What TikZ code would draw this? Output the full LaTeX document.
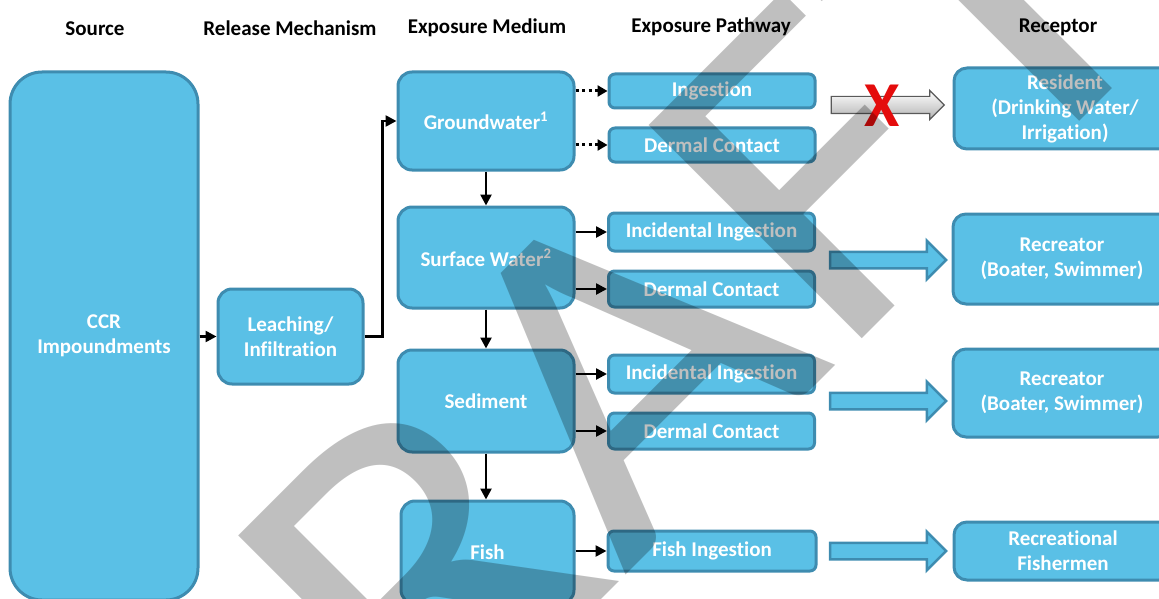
\documentclass[tikz,border=0pt]{standalone}
\usepackage{fontspec}
\setmainfont{Carlito}[Ligatures=NoCommon]
\usetikzlibrary{arrows.meta,shapes.arrows,calc}
\definecolor{boxfill}{RGB}{90,192,230}
\definecolor{boxline}{RGB}{62,140,176}
\definecolor{xred}{RGB}{228,12,12}

\begin{document}
\begin{tikzpicture}[x=1pt,y=-1pt,
  hdr/.style={font=\bfseries\fontsize{21}{25}\selectfont, text=black, inner sep=0pt},
  box/.style={font=\bfseries\fontsize{21}{25}\selectfont, align=center, text=white,
              draw=boxline, fill=boxfill, line width=3pt, inner sep=0pt, rounded corners=#1},
  box/.default=13pt,
  pathbox/.style={box=6pt, minimum width=206pt, minimum height=36pt},
  medium/.style={box=14pt, minimum width=176pt},
  arr/.style={line width=2.5pt, -{Triangle[length=11pt,width=11pt]}},
  dotarr/.style={line width=3pt, dash pattern=on 3pt off 3.5pt, -{Triangle[length=10pt,width=11pt]}},
  blockarr/.style={single arrow, draw=boxline, fill=boxfill, line width=2.5pt,
                   inner xsep=0pt, inner ysep=7pt,
                   minimum height=116pt, minimum width=36pt,
                   single arrow head extend=11pt, single arrow head indent=0pt}
]
\useasboundingbox (0,0) rectangle (1159,599);
\clip (0,0) rectangle (1159,599);

% column headings
\node[hdr] (hsrc) at (95,29)   {Source};
\node[hdr] (hrel) at (290,28)  {Release Mechanism};
\node[hdr] (hmed) at (487,28)  {Exposure Medium};
\node[hdr] (hpth) at (711,27)  {Exposure Pathway};
\node[hdr] (hrec) at (1058,27) {Receptor};

% source and release
\node[box=32pt, minimum width=188pt, minimum height=528pt] (ccr) at (104,336) {CCR\\Impoundments};
\node[box=14pt, minimum width=145pt, minimum height=95pt] (leach) at (290.5,336.5) {Leaching/\\Infiltration};

% exposure media
\node[medium, minimum height=98pt]  (gw)   at (486,121)   {Groundwater\textsuperscript{1}};
\node[medium, minimum height=101pt] (sw)   at (486,257.5) {Surface Water\textsuperscript{2}};
\node[medium, minimum height=102pt] (sed)  at (486,401)   {Sediment};
\node[medium, minimum width=173pt, minimum height=103pt] (fish) at (487.5,552.5) {Fish};

% exposure pathways
\node[pathbox, minimum height=34pt] (p1) at (712,91)  {Ingestion};
\node[pathbox, minimum height=34pt] (p2) at (712,145) {Dermal Contact};
\node[pathbox, minimum height=38pt] (p3) at (711.5,232) {Incidental Ingestion};
\node[pathbox] (p4) at (711.5,289) {Dermal Contact};
\node[pathbox, minimum height=38pt] (p5) at (711.5,374) {Incidental Ingestion};
\node[pathbox] (p6) at (711.5,431) {Dermal Contact};
\node[pathbox, minimum width=208pt, minimum height=40pt] (p7) at (712,551) {Fish Ingestion};

% receptors
\node[box, minimum width=222pt, minimum height=81pt] (r1) at (1065,108.5) {Resident\\(Drinking Water/\\Irrigation)};
\node[box, minimum width=218pt, minimum height=90pt] (r2) at (1062,259) {Recreator\\(Boater, Swimmer)};
\node[box, minimum width=218pt, minimum height=88pt] (r3) at (1062,393) {Recreator\\(Boater, Swimmer)};
\node[box, minimum width=218pt, minimum height=58pt] (r4) at (1063,551) {Recreational\\Fishermen};

% connectors
\draw[arr] (ccr.east |- leach.west) -- (leach.west);
\draw[arr] (leach.east) -- ++(18,0) |- (gw.west);
\draw[arr] (gw.south) -- (sw.north);
\draw[arr] (sw.south) -- (sed.north);
\draw[arr] (sed.south) -- (sed.south |- fish.north);
\draw[dotarr] (gw.east |- p1.west) -- (p1.west);
\draw[dotarr] (gw.east |- p2.west) -- (p2.west);
\draw[arr] (sw.east |- p3.west) -- (p3.west);
\draw[arr] (sw.east |- p4.west) -- (p4.west);
\draw[arr] (sed.east |- p5.west) -- (p5.west);
\draw[arr] (sed.east |- p6.west) -- (p6.west);
\draw[arr] (fish.east |- p7.west) -- (p7.west);

% block arrows towards receptors
\node[single arrow, draw=black!65, line width=1.2pt, inner xsep=0pt, inner ysep=8pt,
      top color=white, bottom color=black!30,
      minimum height=113pt, minimum width=28pt,
      single arrow head extend=6pt, single arrow head indent=0pt] (ga) at (883.5,105) {};
\node[text=xred, font=\bfseries\fontsize{64}{64}\selectfont, inner sep=0pt] (nox) at (882,106) {X};
\node[blockarr] (b1) at (884,260) {};
\node[blockarr] (b2) at (884,401) {};
\node[blockarr] (b3) at (884,551) {};

% watermark
\node[rotate=45, anchor=base west, inner sep=0pt, text=black, opacity=0.25, text opacity=0.25,
      font=\fontsize{470}{470}\selectfont] (wm) at (199.5,1001.5) {\scalebox{1.105}[1]{DRAFT}};
\end{tikzpicture}
\end{document}
